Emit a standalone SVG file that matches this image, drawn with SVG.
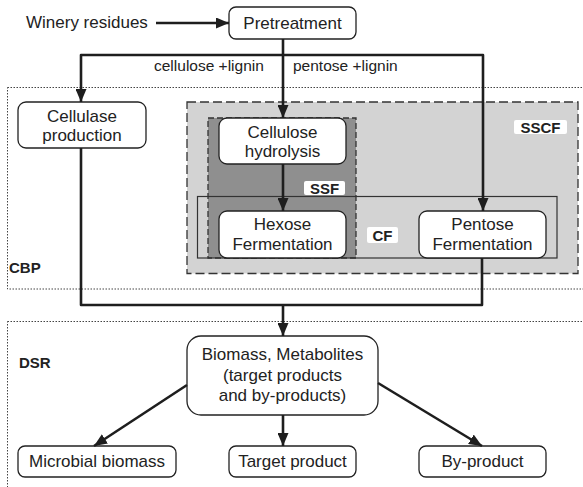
<svg xmlns="http://www.w3.org/2000/svg" width="583" height="487" viewBox="0 0 583 487">
<style>
text{font-family:"Liberation Sans",Arial,sans-serif;fill:#222;}
.t{font-size:17px;text-anchor:middle;}
.s{font-size:15.5px;}
.b{font-size:15px;font-weight:bold;}
.bc{font-size:15px;font-weight:bold;text-anchor:middle;}
.box{fill:#fff;stroke:#222;stroke-width:1.3;}
.dot{fill:none;stroke:#444;stroke-width:1;stroke-dasharray:1.5 1.5;}
.lbl{fill:#fff;stroke:none;}
.con{fill:none;stroke:#1e1e1e;stroke-width:2.6;stroke-linejoin:round;}
</style>
<defs>
<marker id="ah" viewBox="0 0 13 11" refX="13" refY="5.5" markerWidth="13" markerHeight="11" markerUnits="userSpaceOnUse" orient="auto">
<path d="M0,0 L13,5.5 L0,11 z" fill="#1e1e1e"/>
</marker>
</defs>

<g id="regions">
<rect id="CBP" class="dot" x="7.5" y="87.5" width="600" height="201.5"/>
<rect id="DSR" class="dot" x="7.5" y="321.5" width="600" height="200"/>
<rect id="SSCF" x="187" y="102" width="391" height="171.5" fill="#d3d3d3" stroke="#333" stroke-width="1.3" stroke-dasharray="9 4"/>
<rect id="SSF" x="208" y="118" width="148" height="140" fill="#8f8f8f" stroke="#333" stroke-width="1.3" stroke-dasharray="6 3"/>
<rect id="CF" x="197.5" y="196.5" width="359.5" height="61.5" fill="none" stroke="#333" stroke-width="1.2"/>
<text class="b" x="9" y="273">CBP</text>
<text class="b" x="19" y="368">DSR</text>
<rect class="lbl" x="514" y="120" width="53" height="14" rx="2"/>
<text class="bc" x="540.5" y="132.5">SSCF</text>
<rect class="lbl" x="304" y="181" width="41" height="14" rx="2"/>
<text class="bc" x="324.5" y="193.5">SSF</text>
<rect class="lbl" x="367" y="227" width="31" height="16" rx="2"/>
<text class="bc" x="382.5" y="240.5">CF</text>
</g>

<g id="winery">
<text x="26" y="28" style="font-size:17px">Winery residues</text>
</g>
<g id="pretreatment">
<rect class="box" x="229" y="7" width="127" height="32" rx="7"/>
<text class="t" x="292.5" y="29">Pretreatment</text>
</g>
<g id="cellulase">
<rect class="box" x="18" y="102" width="128" height="46" rx="8"/>
<text class="t" x="82" y="122">Cellulase</text>
<text class="t" x="82" y="141">production</text>
</g>
<g id="hydrolysis">
<rect class="box" x="219" y="118" width="127" height="46" rx="8"/>
<text class="t" x="282.5" y="138">Cellulose</text>
<text class="t" x="282.5" y="157">hydrolysis</text>
</g>
<g id="hexose">
<rect class="box" x="219" y="211" width="127" height="47" rx="8"/>
<text class="t" x="282.5" y="230">Hexose</text>
<text class="t" x="282.5" y="250">Fermentation</text>
</g>
<g id="pentose">
<rect class="box" x="419" y="211" width="127" height="47" rx="8"/>
<text class="t" x="482.5" y="230">Pentose</text>
<text class="t" x="482.5" y="250">Fermentation</text>
</g>
<g id="biomass">
<rect class="box" x="187" y="336" width="191" height="79" rx="14"/>
<text class="t" x="282.5" y="360">Biomass, Metabolites</text>
<text class="t" x="282.5" y="381">(target products</text>
<text class="t" x="282.5" y="401">and by-products)</text>
</g>
<g id="microbial">
<rect class="box" x="18" y="446" width="158" height="31" rx="7"/>
<text class="t" x="97" y="467">Microbial biomass</text>
</g>
<g id="target">
<rect class="box" x="229" y="446" width="127" height="31" rx="7"/>
<text class="t" x="292.5" y="467">Target product</text>
</g>
<g id="byproduct">
<rect class="box" x="419" y="446" width="127" height="31" rx="7"/>
<text class="t" x="482.5" y="467">By-product</text>
</g>

<g id="connectors">
<path class="con" d="M156,23 H229" marker-end="url(#ah)"/>
<path class="con" d="M283,39 V118" marker-end="url(#ah)"/>
<path class="con" d="M283,55 H81 V102" marker-end="url(#ah)"/>
<path class="con" d="M283,55 H483 V211" marker-end="url(#ah)"/>
<path class="con" d="M283,164 V211" marker-end="url(#ah)"/>
<path class="con" d="M81,148 V305 H482 V258"/>
<path class="con" d="M283,305 V336" marker-end="url(#ah)"/>
<path class="con" d="M187,385 L94,446" marker-end="url(#ah)"/>
<path class="con" d="M283,415 V446" marker-end="url(#ah)"/>
<path class="con" d="M378,383 L482,446" marker-end="url(#ah)"/>
<text class="s" x="154" y="71">cellulose +lignin</text>
<text class="s" x="293" y="71">pentose +lignin</text>
</g>
</svg>
